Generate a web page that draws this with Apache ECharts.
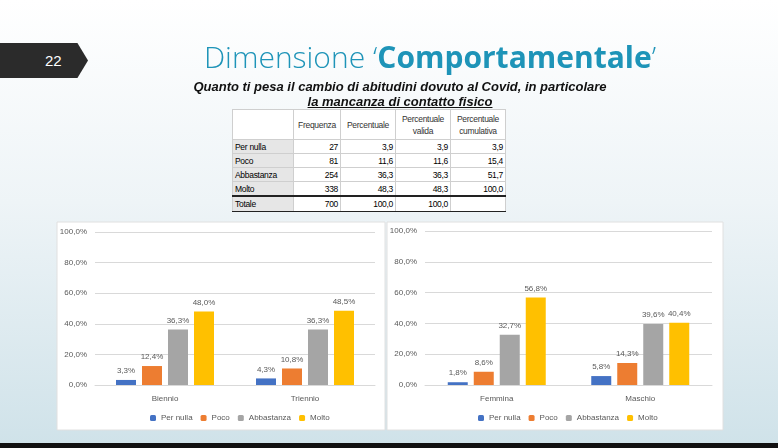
<!DOCTYPE html>
<html lang="it">
<head>
<meta charset="UTF-8">
<title>Dimensione Comportamentale</title>
<script src="https://cdn.jsdelivr.net/npm/echarts@6/dist/echarts.min.js"></script>
<style>
    body{ margin:0; width:778px; height:448px; overflow:hidden; font-family:"Liberation Sans",Arial,sans-serif;
        background:linear-gradient(180deg,#ffffff 0%,#eef4f7 45%,#cfe2e9 100%); position:relative; }
    #chart{ position:absolute; left:0; top:0; width:778px; height:448px; }
    .tab{ position:absolute; left:0; top:43px; width:88px; height:35px; background:#2b2b2b;
        clip-path:polygon(0 0,88% 0,100% 50%,88% 100%,0 100%); color:#fff; font-size:15px; line-height:35px; padding-left:45px; box-sizing:border-box; }
    .title{ position:absolute; left:170px; top:36px; width:520px; text-align:center; font-size:30px; color:#1e94b8; font-family:"Open Sans",sans-serif; font-weight:300; white-space:nowrap; }
    .title b{ font-weight:700; }
    .sub{ position:absolute; left:120px; top:79px; width:560px; text-align:center; font-size:13px; font-weight:bold; font-style:italic; line-height:15px; color:#111; }
    table{ position:absolute; left:232px; top:109px; border-collapse:collapse; font-size:8.5px; background:#fff; font-family:"Liberation Sans",sans-serif; letter-spacing:-0.3px; }
    td{ border:1px solid #cfcfcf; padding:0 2px; height:13px; line-height:12px; text-align:right; }
    td.h{ text-align:center; color:#333; height:29px; }
    td.l{ text-align:left; background:#e6e6e6; width:56px; }
    tr.tot td{ border-top:2px solid #222; border-bottom:1px solid #222; height:14px; }
    .bar{ position:absolute; left:0; top:443px; width:778px; height:5px; background:#111; }
</style>
</head>
<body>
<div id="chart"></div>
<div class="tab">22</div>
<div class="title">Dimensione ‘<b>Comportamentale</b>’</div>
<div class="sub">Quanto ti pesa il cambio di abitudini dovuto al Covid, in particolare<br><u>la mancanza di contatto fisico</u></div>
<table id="tbl"></table>
<div class="bar"></div>
<script>
    var rows = ['Per nulla','Poco','Abbastanza','Molto','Totale'];
    var frequenza = ['27','81','254','338','700'];
    var percentuale = ['3,9','11,6','36,3','48,3','100,0'];
    var valida = ['3,9','11,6','36,3','48,3','100,0'];
    var cumulativa = ['3,9','15,4','51,7','100,0',''];

    var series = ['Per nulla','Poco','Abbastanza','Molto'];
    var colors = ['#4472c4','#ed7d31','#a5a5a5','#ffc000'];
    var leftCats = ['Biennio','Triennio'];
    var leftVals = [[3.3,4.3],[12.4,10.8],[36.3,36.3],[48.0,48.5]];
    var rightCats = ['Femmina','Maschio'];
    var rightVals = [[1.8,5.8],[8.6,14.3],[32.7,39.6],[56.8,40.4]];

    var html = '<tr><td class="h" style="background:#fff"></td><td class="h">Frequenza</td><td class="h">Percentuale</td><td class="h">Percentuale<br>valida</td><td class="h">Percentuale<br>cumulativa</td></tr>';
    for (var i = 0; i < rows.length; i++) {
        html += '<tr' + (i == 4 ? ' class="tot"' : '') + '><td class="l">' + rows[i] + '</td><td style="width:42px">' + frequenza[i] +
            '</td><td style="width:50px">' + percentuale[i] + '</td><td style="width:50px">' + valida[i] + '</td><td style="width:50px">' + cumulativa[i] + '</td></tr>';
    }
    document.getElementById('tbl').innerHTML = html;

    function pct(v){ return v.toFixed(1).replace('.', ',') + '%'; }

    var myChart = echarts.init(document.getElementById('chart'));
    var txt = { color:'#595959', fontSize:8, fontFamily:'Liberation Sans' };
    var grids = [
        { left:95, width:280, top:232, height:153 },
        { left:425, width:287, top:231, height:154 }
    ];
    var xAxis = [], yAxis = [], ser = [];
    [[leftCats,leftVals],[rightCats,rightVals]].forEach(function (d, g) {
        xAxis.push({ type:'category', gridIndex:g, data:d[0], axisTick:{show:false},
            axisLine:{lineStyle:{color:'#d9d9d9'}}, axisLabel:Object.assign({margin:10}, txt) });
        yAxis.push({ type:'value', gridIndex:g, min:0, max:100, interval:20, axisLine:{show:false}, axisTick:{show:false},
            splitLine:{lineStyle:{color:'#d9d9d9'}}, axisLabel:Object.assign({formatter:function(v){return pct(v);}}, txt) });
        series.forEach(function (name, k) {
            ser.push({ type:'bar', name:name, xAxisIndex:g, yAxisIndex:g, data:d[1][k], barWidth:20, barGap:'30%',
                itemStyle:{color:colors[k]},
                label:Object.assign({show:true, position:'top', distance:5, formatter:function(p){return pct(p.value);}}, txt) });
        });
    });
    var option = {
        animation:false,
        graphic:[
            { type:'rect', shape:{x:57,y:222,width:328,height:208}, style:{fill:'#fff',stroke:'#e0e0e0'} },
            { type:'rect', shape:{x:387,y:222,width:336,height:208}, style:{fill:'#fff',stroke:'#e0e0e0'} }
        ],
        legend:[
            { left:145, top:409, itemWidth:6, itemHeight:6, itemGap:8, textStyle:txt, data:series },
            { left:473, top:409, itemWidth:6, itemHeight:6, itemGap:8, textStyle:txt, data:series }
        ],
        grid:grids, xAxis:xAxis, yAxis:yAxis, series:ser
    };
    myChart.setOption(option);
</script>
</body>
</html>
